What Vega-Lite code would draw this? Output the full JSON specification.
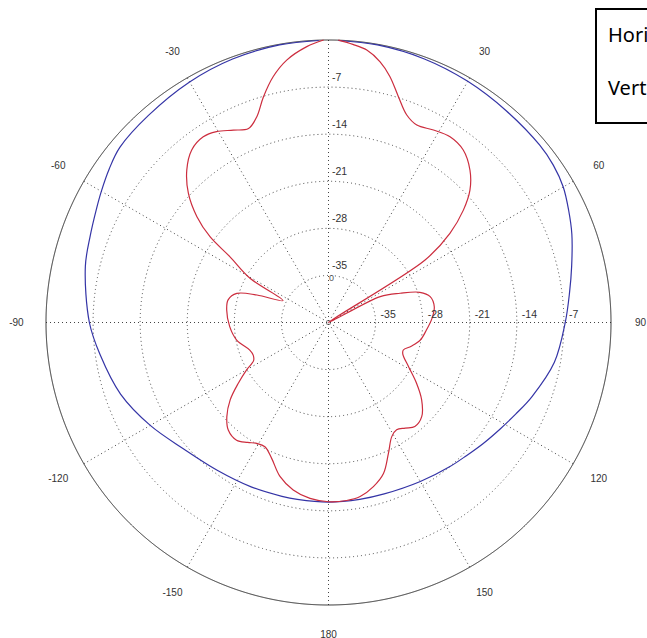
{
  "$schema": "https://vega.github.io/schema/vega-lite/v6.json",
  "width": 565,
  "height": 565,
  "autosize": {"type": "none"},
  "padding": {"left": 46, "top": 40, "right": 36, "bottom": 33},
  "background": "white",
  "config": {"view": {"stroke": null}, "legend": {"strokeWidth": 2}},
  "layer": [
    {
      "data": {"values": [{"a": 0}, {"a": 30}, {"a": 60}, {"a": 90}, {"a": 120}, {"a": 150}, {"a": 180}, {"a": 210}, {"a": 240}, {"a": 270}, {"a": 300}, {"a": 330}]},
      "transform": [
        {"calculate": "42*sin(datum.a*PI/180)", "as": "sx"},
        {"calculate": "42*cos(datum.a*PI/180)", "as": "sy"}
      ],
      "mark": {"type": "rule", "stroke": "#444444", "strokeDash": [1, 3], "strokeWidth": 1},
      "encoding": {
        "x": {"field": "sx", "type": "quantitative", "scale": {"domain": [-42, 42], "nice": false, "zero": false}, "axis": null},
        "y": {"field": "sy", "type": "quantitative", "scale": {"domain": [-42, 42], "nice": false, "zero": false}, "axis": null},
        "x2": {"datum": 0},
        "y2": {"datum": 0}
      }
    },
    {
      "data": {"values": [{"r": 7, "k": "grid"}, {"r": 14, "k": "grid"}, {"r": 21, "k": "grid"}, {"r": 28, "k": "grid"}, {"r": 35, "k": "grid"}, {"r": 42, "k": "outer"}]},
      "mark": {"type": "point", "shape": "circle", "filled": false, "strokeWidth": 1},
      "encoding": {
        "x": {"datum": 0, "type": "quantitative", "scale": {"domain": [-42, 42], "nice": false, "zero": false}, "axis": null},
        "y": {"datum": 0, "type": "quantitative", "scale": {"domain": [-42, 42], "nice": false, "zero": false}, "axis": null},
        "size": {"field": "r", "type": "quantitative", "scale": {"type": "pow", "exponent": 2, "domain": [0, 42], "range": [0, 319225]}, "legend": null},
        "stroke": {"field": "k", "type": "nominal", "scale": {"domain": ["grid", "outer"], "range": ["#444444", "#222222"]}, "legend": null},
        "strokeDash": {"field": "k", "type": "nominal", "scale": {"domain": ["grid", "outer"], "range": [[1, 3], [1, 0]]}, "legend": null},
        "opacity": {"value": 1}
      }
    },
    {
      "data": {"values": [
        {"s": "Horizontal", "a": 2, "db": -0.05}, {"s": "Horizontal", "a": 10, "db": -0.1}, {"s": "Horizontal", "a": 20, "db": -0.3}, {"s": "Horizontal", "a": 30, "db": -0.6}, {"s": "Horizontal", "a": 40, "db": -0.9}, {"s": "Horizontal", "a": 50, "db": -1.0}, {"s": "Horizontal", "a": 55, "db": -1.2}, {"s": "Horizontal", "a": 60, "db": -1.7}, {"s": "Horizontal", "a": 65, "db": -2.6}, {"s": "Horizontal", "a": 70, "db": -3.5}, {"s": "Horizontal", "a": 77, "db": -4.9}, {"s": "Horizontal", "a": 83, "db": -5.9}, {"s": "Horizontal", "a": 90, "db": -6.8}, {"s": "Horizontal", "a": 100, "db": -7.9}, {"s": "Horizontal", "a": 110, "db": -9.8}, {"s": "Horizontal", "a": 116, "db": -11.0}, {"s": "Horizontal", "a": 122, "db": -12.0}, {"s": "Horizontal", "a": 128, "db": -12.8}, {"s": "Horizontal", "a": 134, "db": -13.5}, {"s": "Horizontal", "a": 140, "db": -14.0}, {"s": "Horizontal", "a": 150, "db": -14.7}, {"s": "Horizontal", "a": 162, "db": -15.2}, {"s": "Horizontal", "a": 170, "db": -15.3}, {"s": "Horizontal", "a": 180, "db": -15.3}, {"s": "Horizontal", "a": 190, "db": -15.3}, {"s": "Horizontal", "a": 195, "db": -15.25}, {"s": "Horizontal", "a": 205, "db": -15.0}, {"s": "Horizontal", "a": 217, "db": -14.5}, {"s": "Horizontal", "a": 229, "db": -13.4}, {"s": "Horizontal", "a": 240, "db": -11.4}, {"s": "Horizontal", "a": 251, "db": -9.3}, {"s": "Horizontal", "a": 262, "db": -7.7}, {"s": "Horizontal", "a": 270, "db": -6.45}, {"s": "Horizontal", "a": 283, "db": -4.9}, {"s": "Horizontal", "a": 290, "db": -4.3}, {"s": "Horizontal", "a": 296, "db": -3.6}, {"s": "Horizontal", "a": 300, "db": -3.0}, {"s": "Horizontal", "a": 305, "db": -2.2}, {"s": "Horizontal", "a": 310, "db": -1.5}, {"s": "Horizontal", "a": 319, "db": -1.2}, {"s": "Horizontal", "a": 330, "db": -0.7}, {"s": "Horizontal", "a": 340, "db": -0.3}, {"s": "Horizontal", "a": 350, "db": -0.1}, {"s": "Horizontal", "a": 358, "db": -0.05},
        {"s": "Vertical", "a": 2, "db": 0}, {"s": "Vertical", "a": 5, "db": -0.5}, {"s": "Vertical", "a": 8, "db": -1.1}, {"s": "Vertical", "a": 11.2, "db": -2.5}, {"s": "Vertical", "a": 14, "db": -4.3}, {"s": "Vertical", "a": 17.2, "db": -6.85}, {"s": "Vertical", "a": 20.6, "db": -9.0}, {"s": "Vertical", "a": 24.1, "db": -9.84}, {"s": "Vertical", "a": 28.6, "db": -9.4}, {"s": "Vertical", "a": 33.2, "db": -9.0}, {"s": "Vertical", "a": 38, "db": -9.46}, {"s": "Vertical", "a": 42.9, "db": -11.1}, {"s": "Vertical", "a": 46.9, "db": -13.2}, {"s": "Vertical", "a": 50.2, "db": -15.9}, {"s": "Vertical", "a": 53.7, "db": -19.6}, {"s": "Vertical", "a": 57.1, "db": -24.9}, {"s": "Vertical", "a": 60, "db": -42}, {"s": "Vertical", "a": 63.4, "db": -33.4}, {"s": "Vertical", "a": 67.8, "db": -30.5}, {"s": "Vertical", "a": 71.7, "db": -27.7}, {"s": "Vertical", "a": 75.7, "db": -26.4}, {"s": "Vertical", "a": 81.5, "db": -26.1}, {"s": "Vertical", "a": 87.7, "db": -26.6}, {"s": "Vertical", "a": 94.4, "db": -27.4}, {"s": "Vertical", "a": 100.8, "db": -28.1}, {"s": "Vertical", "a": 106, "db": -29.2}, {"s": "Vertical", "a": 110.2, "db": -30.15}, {"s": "Vertical", "a": 113, "db": -30.0}, {"s": "Vertical", "a": 118.9, "db": -28.4}, {"s": "Vertical", "a": 124.6, "db": -26.1}, {"s": "Vertical", "a": 129.7, "db": -24.0}, {"s": "Vertical", "a": 135.3, "db": -22.3}, {"s": "Vertical", "a": 140.3, "db": -21.9}, {"s": "Vertical", "a": 144, "db": -22.6}, {"s": "Vertical", "a": 147.6, "db": -23.1}, {"s": "Vertical", "a": 151, "db": -22.6}, {"s": "Vertical", "a": 155.4, "db": -20.6}, {"s": "Vertical", "a": 160, "db": -18.1}, {"s": "Vertical", "a": 164.7, "db": -16.7}, {"s": "Vertical", "a": 169.7, "db": -15.7}, {"s": "Vertical", "a": 174.2, "db": -15.4}, {"s": "Vertical", "a": 180, "db": -15.35},
        {"s": "Vertical", "a": 186, "db": -15.7}, {"s": "Vertical", "a": 191.9, "db": -16.55}, {"s": "Vertical", "a": 197.5, "db": -18.0}, {"s": "Vertical", "a": 202.7, "db": -20.1}, {"s": "Vertical", "a": 207.1, "db": -21.25}, {"s": "Vertical", "a": 210.7, "db": -21.1}, {"s": "Vertical", "a": 214, "db": -20.5}, {"s": "Vertical", "a": 218, "db": -19.8}, {"s": "Vertical", "a": 223, "db": -20.15}, {"s": "Vertical", "a": 227.2, "db": -21.4}, {"s": "Vertical", "a": 231.8, "db": -23.4}, {"s": "Vertical", "a": 236, "db": -25.8}, {"s": "Vertical", "a": 239.9, "db": -27.9}, {"s": "Vertical", "a": 243, "db": -29.5}, {"s": "Vertical", "a": 246.6, "db": -29.8}, {"s": "Vertical", "a": 250.7, "db": -29.6}, {"s": "Vertical", "a": 259.2, "db": -28.1}, {"s": "Vertical", "a": 267.6, "db": -27.3}, {"s": "Vertical", "a": 277, "db": -26.75}, {"s": "Vertical", "a": 282.7, "db": -26.7}, {"s": "Vertical", "a": 287.6, "db": -27.7}, {"s": "Vertical", "a": 291, "db": -30.6}, {"s": "Vertical", "a": 295.7, "db": -34.5}, {"s": "Vertical", "a": 299.4, "db": -28.6}, {"s": "Vertical", "a": 303.7, "db": -24.4}, {"s": "Vertical", "a": 305.9, "db": -20.25}, {"s": "Vertical", "a": 308.8, "db": -16.9}, {"s": "Vertical", "a": 312.7, "db": -13.65}, {"s": "Vertical", "a": 317.1, "db": -11.05}, {"s": "Vertical", "a": 321.6, "db": -9.26}, {"s": "Vertical", "a": 326, "db": -8.7}, {"s": "Vertical", "a": 329.6, "db": -9.1}, {"s": "Vertical", "a": 333.7, "db": -10.1}, {"s": "Vertical", "a": 337.6, "db": -10.8}, {"s": "Vertical", "a": 340.8, "db": -9.6}, {"s": "Vertical", "a": 343.9, "db": -7.1}, {"s": "Vertical", "a": 347.3, "db": -4.55}, {"s": "Vertical", "a": 350.95, "db": -2.5}, {"s": "Vertical", "a": 355.5, "db": -0.86}, {"s": "Vertical", "a": 359, "db": 0}
      ]},
      "transform": [
        {"calculate": "max(0, datum.db + 42) * sin(datum.a * PI / 180)", "as": "px"},
        {"calculate": "max(0, datum.db + 42) * cos(datum.a * PI / 180)", "as": "py"}
      ],
      "mark": {"type": "line", "strokeWidth": 1.2, "interpolate": "catmull-rom"},
      "encoding": {
        "x": {"field": "px", "type": "quantitative", "scale": {"domain": [-42, 42], "nice": false, "zero": false}, "axis": null},
        "y": {"field": "py", "type": "quantitative", "scale": {"domain": [-42, 42], "nice": false, "zero": false}, "axis": null},
        "order": {"field": "a", "type": "quantitative"},
        "color": {
          "field": "s", "type": "nominal",
          "scale": {"domain": ["Horizontal", "Vertical"], "range": ["#3434a6", "#cc2d3e"]},
          "legend": {
            "title": " ", "titleOrient": "bottom", "titleFontSize": 7, "titlePadding": 0,
            "orient": "none", "legendX": 550, "legendY": -31,
            "strokeColor": "black", "fillColor": "white", "padding": 17,
            "labelFont": "Noto Sans", "labelFontSize": 20, "labelColor": "black",
            "symbolSize": 0, "symbolOpacity": 0, "symbolStrokeWidth": 0, "labelOffset": -25, "rowPadding": 33
          }
        }
      }
    },
    {
      "data": {"values": [{"t": "-30", "a": 330}, {"t": "30", "a": 30}, {"t": "60", "a": 60}, {"t": "90", "a": 90}, {"t": "120", "a": 120}, {"t": "150", "a": 150}, {"t": "180", "a": 180}, {"t": "-150", "a": 210}, {"t": "-120", "a": 240}, {"t": "-90", "a": 270}, {"t": "-60", "a": 300}]},
      "transform": [
        {"calculate": "46.4*sin(datum.a*PI/180)", "as": "lx"},
        {"calculate": "46.4*cos(datum.a*PI/180)", "as": "ly"}
      ],
      "mark": {"type": "text", "font": "Liberation Sans", "fontSize": 10, "fill": "#333333", "align": "center", "baseline": "middle"},
      "encoding": {
        "x": {"field": "lx", "type": "quantitative", "scale": {"domain": [-42, 42], "nice": false, "zero": false}, "axis": null},
        "y": {"field": "ly", "type": "quantitative", "scale": {"domain": [-42, 42], "nice": false, "zero": false}, "axis": null},
        "text": {"field": "t", "type": "nominal"}
      }
    },
    {
      "data": {"values": [{"t": "-35", "v": 7}, {"t": "-28", "v": 14}, {"t": "-21", "v": 21}, {"t": "-14", "v": 28}, {"t": "-7", "v": 35}]},
      "mark": {"type": "text", "font": "Liberation Sans", "fontSize": 10.5, "fill": "#333333", "align": "left", "baseline": "middle", "dx": 3.5, "dy": -9},
      "encoding": {
        "x": {"datum": 0, "type": "quantitative", "scale": {"domain": [-42, 42], "nice": false, "zero": false}, "axis": null},
        "y": {"field": "v", "type": "quantitative", "scale": {"domain": [-42, 42], "nice": false, "zero": false}, "axis": null},
        "text": {"field": "t", "type": "nominal"}
      }
    },
    {
      "data": {"values": [{"t": "-35", "v": 7}, {"t": "-28", "v": 14}, {"t": "-21", "v": 21}, {"t": "-14", "v": 28}, {"t": "-7", "v": 35}]},
      "mark": {"type": "text", "font": "Liberation Sans", "fontSize": 10.5, "fill": "#333333", "align": "left", "baseline": "middle", "dx": 5, "dy": -7.5},
      "encoding": {
        "x": {"field": "v", "type": "quantitative", "scale": {"domain": [-42, 42], "nice": false, "zero": false}, "axis": null},
        "y": {"datum": 0, "type": "quantitative", "scale": {"domain": [-42, 42], "nice": false, "zero": false}, "axis": null},
        "text": {"field": "t", "type": "nominal"}
      }
    },
    {
      "data": {"values": [{"t": "0", "v": 7}]},
      "mark": {"type": "text", "font": "Liberation Sans", "fontSize": 9, "fill": "#555555", "align": "center", "baseline": "middle", "dx": 3, "dy": 3},
      "encoding": {
        "x": {"datum": 0, "type": "quantitative", "scale": {"domain": [-42, 42], "nice": false, "zero": false}, "axis": null},
        "y": {"field": "v", "type": "quantitative", "scale": {"domain": [-42, 42], "nice": false, "zero": false}, "axis": null},
        "text": {"field": "t", "type": "nominal"}
      }
    }
  ]
}
